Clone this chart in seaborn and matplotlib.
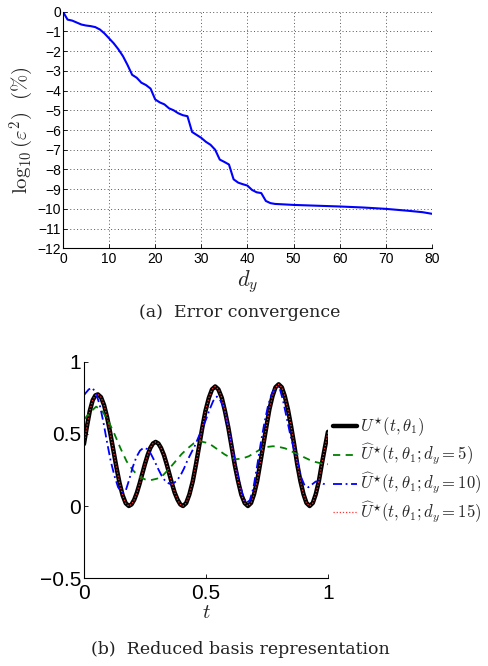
import numpy as np
import pandas as pd
import matplotlib
matplotlib.use("Agg")
import matplotlib.pyplot as plt
import seaborn as sns

# ---------------- data: panel (a) ----------------
dy = [0, 1, 2, 3, 4, 5, 6, 7, 8, 9, 10, 11, 12, 13, 14, 15, 16, 17, 18, 19, 20,
      21, 22, 23, 24, 25, 26, 27, 28, 29, 30, 31, 32, 33, 34, 35, 36, 37, 38, 39,
      40, 41, 42, 43, 44, 45, 46, 50, 55, 60, 65, 70, 75, 78, 80]
log_err = [0.00, -0.40, -0.45, -0.55, -0.65, -0.70, -0.73, -0.78, -0.90, -1.10,
           -1.35, -1.60, -1.90, -2.25, -2.70, -3.20, -3.35, -3.60, -3.72, -3.90,
           -4.45, -4.60, -4.70, -4.90, -5.00, -5.15, -5.25, -5.30, -6.10, -6.25,
           -6.40, -6.60, -6.75, -7.00, -7.50, -7.62, -7.75, -8.50, -8.67, -8.75,
           -8.82, -9.04, -9.16, -9.20, -9.60, -9.71, -9.75, -9.80, -9.84, -9.88,
           -9.93, -10.00, -10.10, -10.17, -10.25]

# ---------------- data: panel (b) ----------------
t_exact = [0.000, 0.012, 0.024, 0.036, 0.047, 0.057,
           0.0697, 0.0824, 0.0951, 0.1078, 0.1205, 0.1332, 0.1459, 0.1586, 0.1713, 0.184,
           0.195, 0.206, 0.217, 0.228, 0.239, 0.250, 0.261, 0.272, 0.283, 0.294,
           0.305, 0.316, 0.328, 0.339, 0.350, 0.361, 0.372, 0.384, 0.395, 0.406,
           0.419, 0.432, 0.446, 0.459, 0.472, 0.485, 0.498, 0.512, 0.525, 0.538,
           0.551, 0.565, 0.578, 0.592, 0.605, 0.618, 0.632, 0.645, 0.659, 0.672,
           0.685, 0.697, 0.710, 0.722, 0.735, 0.748, 0.760, 0.773, 0.785, 0.798,
           0.811, 0.823, 0.836, 0.849, 0.862, 0.874, 0.887, 0.900, 0.912, 0.925,
           0.938, 0.950, 0.963, 0.975, 0.988, 1.000]
u_exact = [0.430, 0.550, 0.660, 0.735, 0.768, 0.775,
           0.756, 0.701, 0.615, 0.507, 0.388, 0.268, 0.160, 0.074, 0.019, 0.000,
           0.011, 0.043, 0.092, 0.154, 0.223, 0.291, 0.353, 0.403, 0.434, 0.445,
           0.434, 0.403, 0.353, 0.291, 0.223, 0.154, 0.092, 0.043, 0.011, 0.000,
           0.020, 0.079, 0.171, 0.287, 0.415, 0.543, 0.659, 0.751, 0.810, 0.830,
           0.810, 0.751, 0.659, 0.543, 0.415, 0.287, 0.171, 0.079, 0.020, 0.000,
           0.021, 0.081, 0.174, 0.292, 0.423, 0.553, 0.671, 0.764, 0.824, 0.845,
           0.824, 0.764, 0.671, 0.553, 0.423, 0.292, 0.174, 0.081, 0.021, 0.000,
           0.021, 0.081, 0.174, 0.292, 0.410, 0.515]
u_dy15 = list(u_exact)

t_dy5 = [0.000, 0.025, 0.050, 0.075, 0.100, 0.125, 0.150, 0.175, 0.200, 0.225,
         0.250, 0.275, 0.300, 0.325, 0.350, 0.375, 0.400, 0.425, 0.450, 0.475,
         0.500, 0.525, 0.550, 0.575, 0.600, 0.625, 0.650, 0.675, 0.700, 0.725,
         0.750, 0.775, 0.800, 0.825, 0.850, 0.875, 0.900, 0.925, 0.950, 0.975,
         1.000]
u_dy5 = [0.600, 0.650, 0.690, 0.660, 0.590, 0.500, 0.400, 0.310, 0.250, 0.205,
         0.185, 0.180, 0.190, 0.215, 0.260, 0.310, 0.360, 0.400, 0.435, 0.450,
         0.440, 0.420, 0.390, 0.360, 0.335, 0.325, 0.330, 0.345, 0.370, 0.395,
         0.410, 0.415, 0.410, 0.400, 0.380, 0.360, 0.340, 0.320, 0.305, 0.295,
         0.290]

t_dy10 = [0.000, 0.020, 0.035, 0.050, 0.065, 0.080, 0.095, 0.110, 0.125, 0.140,
          0.155, 0.170, 0.185, 0.200, 0.215, 0.230, 0.245, 0.260, 0.275, 0.290,
          0.305, 0.320, 0.335, 0.350, 0.365, 0.380, 0.395, 0.410, 0.425, 0.440,
          0.455, 0.470, 0.485, 0.500, 0.515, 0.530, 0.545, 0.560, 0.575, 0.590,
          0.605, 0.620, 0.635, 0.650, 0.665, 0.680, 0.695, 0.710, 0.725, 0.740,
          0.755, 0.770, 0.785, 0.800, 0.815, 0.830, 0.845, 0.860, 0.875, 0.890,
          0.905, 0.920, 0.935, 0.950, 0.965, 0.980, 1.000]
u_dy10 = [0.770, 0.810, 0.820, 0.780, 0.700, 0.580, 0.440, 0.310, 0.210, 0.130,
          0.095, 0.100, 0.180, 0.270, 0.340, 0.385, 0.405, 0.395, 0.360, 0.310,
          0.255, 0.205, 0.170, 0.155, 0.155, 0.175, 0.210, 0.260, 0.320, 0.370,
          0.420, 0.480, 0.540, 0.600, 0.670, 0.730, 0.760, 0.730, 0.680, 0.560,
          0.430, 0.300, 0.180, 0.080, 0.020, 0.040, 0.130, 0.280, 0.440, 0.580,
          0.700, 0.780, 0.825, 0.830, 0.740, 0.620, 0.500, 0.400, 0.310, 0.200,
          0.140, 0.130, 0.150, 0.170, 0.170, 0.155, 0.145]

labels = [r"$U^{\star}(t,\theta_1)$",
          r"$\widehat{U}^{\star}(t,\theta_1;d_y=5)$",
          r"$\widehat{U}^{\star}(t,\theta_1;d_y=10)$",
          r"$\widehat{U}^{\star}(t,\theta_1;d_y=15)$"]

# ---------------- style ----------------
sns.set_style("ticks")
plt.rcParams["font.family"] = ["Liberation Sans", "DejaVu Sans"]
plt.rcParams["mathtext.fontset"] = "cm"
plt.rcParams["axes.unicode_minus"] = True
plt.rcParams["lines.solid_joinstyle"] = "round"
plt.rcParams["lines.dash_joinstyle"] = "round"

fig = plt.figure(figsize=(4.88, 6.66), dpi=100)

# ---------------- panel (a) ----------------
ax1 = fig.add_axes([0.129, 0.6272, 0.756, 0.3552])
df_a = pd.DataFrame({"dy": dy, "err": log_err})
sns.lineplot(data=df_a, x="dy", y="err", ax=ax1, color="#0000ff", lw=1.5)
ax1.set_xlim(0, 80)
ax1.set_ylim(-12, 0)
ax1.set_xticks(range(0, 81, 10))
ax1.set_yticks(range(-12, 1, 1))
ax1.grid(True, color="#555555", linestyle=(0, (1, 2.5)), linewidth=0.7)
for s in ["top", "right"]:
    ax1.spines[s].set_visible(False)
for s in ["left", "bottom"]:
    ax1.spines[s].set_color("black")
    ax1.spines[s].set_linewidth(0.8)
ax1.tick_params(direction="in", length=3, width=0.6, labelsize=10, colors="black", pad=1.5)
ax1.tick_params(axis="x", pad=3)
ax1.set_xlabel(r"$d_y$", fontsize=16, labelpad=1)
ax1.set_ylabel(r"$\log_{10}(\varepsilon^2)\ \ (\%)$", fontsize=15, labelpad=1)

fig.text(0.492, 0.531, "(a)  Error convergence", ha="center", va="center",
         fontsize=12.5, family="DejaVu Serif", color="#222222")

# ---------------- panel (b) ----------------
ax2 = fig.add_axes([0.172, 0.1321, 0.5, 0.3244])
df_ex = pd.DataFrame({"t": t_exact, "u": u_exact})
df_5 = pd.DataFrame({"t": t_dy5, "u": u_dy5})
df_10 = pd.DataFrame({"t": t_dy10, "u": u_dy10})
df_15 = pd.DataFrame({"t": t_exact, "u": u_dy15})
sns.lineplot(data=df_ex, x="t", y="u", ax=ax2, color="black", lw=3.2, label=labels[0])
sns.lineplot(data=df_5, x="t", y="u", ax=ax2, color="#008000", lw=1.3,
             linestyle=(0, (4, 3)), label=labels[1])
sns.lineplot(data=df_10, x="t", y="u", ax=ax2, color="#0000ff", lw=1.3,
             linestyle=(0, (5, 2, 1, 2)), label=labels[2])
sns.lineplot(data=df_15, x="t", y="u", ax=ax2, color="#ff3333", lw=0.9,
             linestyle=(0, (1, 1.5)), label=labels[3])
ax2.set_xlim(0, 1)
ax2.set_ylim(-0.5, 1)
ax2.set_xticks([0, 0.5, 1])
ax2.set_xticklabels(["0", "0.5", "1"])
ax2.set_yticks([-0.5, 0, 0.5, 1])
ax2.set_yticklabels(["\u22120.5", "0", "0.5", "1"])
for s in ["top", "right"]:
    ax2.spines[s].set_visible(False)
for s in ["left", "bottom"]:
    ax2.spines[s].set_color("black")
    ax2.spines[s].set_linewidth(0.8)
ax2.tick_params(direction="in", length=3, width=0.6, labelsize=15, colors="black", pad=2)
ax2.tick_params(axis="x", pad=4)
ax2.set_xlabel(r"$t$", fontsize=15, labelpad=0)
ax2.set_ylabel("")
ax2.legend(loc="upper left", bbox_to_anchor=(0.683, 0.376), bbox_transform=fig.transFigure,
           frameon=False, fontsize=12, handlelength=1.45, handletextpad=0.15,
           labelspacing=0.22, borderaxespad=0, borderpad=0)

fig.text(0.492, 0.0255, "(b)  Reduced basis representation", ha="center", va="center",
         fontsize=12.5, family="DejaVu Serif", color="#222222")

fig.savefig("out.png", dpi=100)
